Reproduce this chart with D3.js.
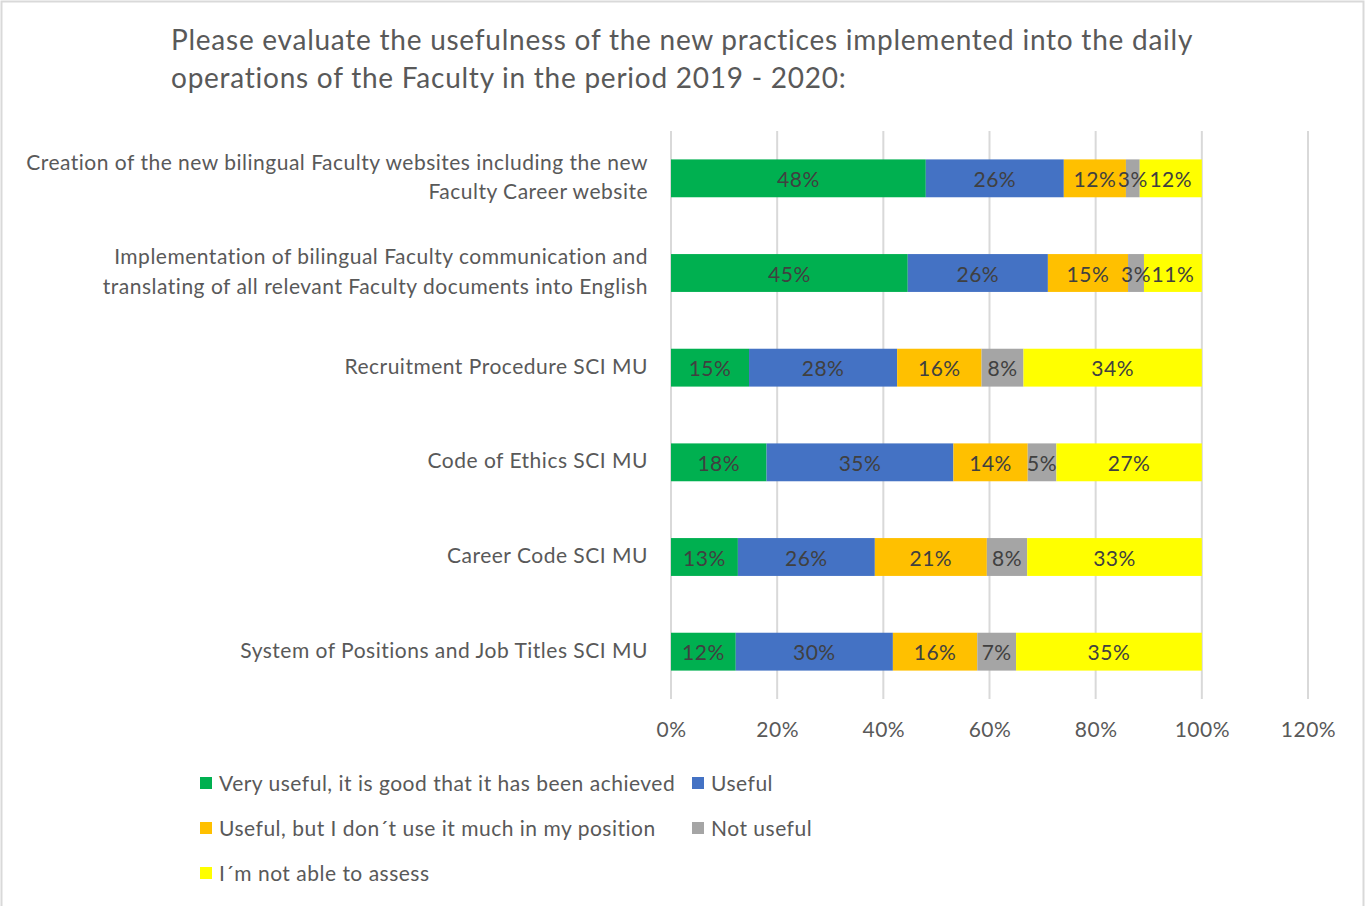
<!DOCTYPE html>
<html>
<head>
<meta charset="utf-8">
<script src="https://cdn.jsdelivr.net/npm/d3@7"></script>
<style>
  html, body { margin: 0; padding: 0; background: #fff; }
  svg { display: block; }
  text { font-family: Lato, "Open Sans", sans-serif; }
</style>
</head>
<body>
<svg id="chart" width="1365" height="906"></svg>
<script>
// Survey items (top to bottom); each label may wrap to two lines
const categories = [
  ["Creation of the new bilingual Faculty websites including the new", "Faculty Career website"],
  ["Implementation of bilingual Faculty communication and", "translating of all relevant Faculty documents into English"],
  ["Recruitment Procedure SCI MU"],
  ["Code of Ethics SCI MU"],
  ["Career Code SCI MU"],
  ["System of Positions and Job Titles SCI MU"]
];

// Answer options
const seriesNames = [
  "Very useful, it is good that it has been achieved",
  "Useful",
  "Useful, but I don´t use it much in my position",
  "Not useful",
  "I´m not able to assess"
];

// Share of responses (%) per answer option, one value per survey item
const veryUseful   = [48.0, 44.6, 14.7, 18.0, 12.6, 12.2];
const useful       = [26.0, 26.4, 27.9, 35.2, 25.8, 29.6];
const usefulNotUse = [11.7, 15.1, 15.9, 14.0, 21.1, 15.9];
const notUseful    = [ 2.6,  3.0,  7.9,  5.4,  7.6,  7.3];
const notAssess    = [11.7, 10.9, 33.6, 27.4, 32.9, 35.0];

const tickValues = [0, 20, 40, 60, 80, 100, 120];

const seriesValues = [veryUseful, useful, usefulNotUse, notUseful, notAssess];
const colors = ["#00B050", "#4472C4", "#FFC000", "#A5A5A5", "#FFFF00"];

const FS = 21;          // body text size
const LS = "0.5px";     // body letter spacing

const svg = d3.select("#chart");

// outer chart frame
svg.append("rect")
  .attr("x", 1.5).attr("y", 1.5)
  .attr("width", 1362).attr("height", 910)
  .attr("fill", "#fff").attr("stroke", "#d9d9d9").attr("stroke-width", 2);

// title
const title = svg.append("text")
  .attr("fill", "#595959")
  .attr("font-size", 28)
  .attr("letter-spacing", "0.75px");
title.append("tspan").attr("x", 171).attr("y", 50)
  .text("Please evaluate the usefulness of the new practices implemented into the daily");
title.append("tspan").attr("x", 171).attr("y", 88)
  .text("operations of the Faculty in the period 2019 - 2020:");

const x = d3.scaleLinear().domain([0, 120]).range([671, 1308]);
const y = d3.scaleBand()
  .domain(d3.range(categories.length))
  .range([131, 699])
  .paddingInner(0.6)
  .paddingOuter(0.3);

// vertical gridlines
svg.append("g")
  .selectAll("line")
  .data(tickValues)
  .join("line")
  .attr("x1", d => x(d)).attr("x2", d => x(d))
  .attr("y1", 131).attr("y2", 699)
  .attr("stroke", "#d9d9d9").attr("stroke-width", 2);

// x axis tick labels
const xAxis = d3.axisBottom(x)
  .tickValues(tickValues)
  .tickFormat(d => d + "%")
  .tickSize(0)
  .tickPadding(0);
const gx = svg.append("g")
  .attr("transform", "translate(0,722)")
  .call(xAxis);
gx.select(".domain").remove();
gx.selectAll("text")
  .attr("font-family", "Lato, 'Open Sans', sans-serif")
  .attr("font-size", FS)
  .attr("letter-spacing", LS)
  .attr("fill", "#595959");

// stacked layout
const rows = categories.map((c, i) => {
  const o = { index: i };
  seriesValues.forEach((s, k) => { o["s" + k] = s[i]; });
  return o;
});
const keys = seriesValues.map((s, k) => "s" + k);
const stacked = d3.stack().keys(keys)(rows);

const layers = svg.append("g")
  .selectAll("g")
  .data(stacked)
  .join("g")
  .attr("fill", (d, k) => colors[k]);

layers.selectAll("rect")
  .data(d => d)
  .join("rect")
  .attr("x", d => x(d[0]))
  .attr("width", d => x(d[1]) - x(d[0]))
  .attr("y", (d, i) => y(i))
  .attr("height", y.bandwidth());

// value labels centred in each segment
const labelLayers = svg.append("g")
  .selectAll("g")
  .data(stacked)
  .join("g");
labelLayers.selectAll("text")
  .data(d => d)
  .join("text")
  .attr("x", d => (x(d[0]) + x(d[1])) / 2)
  .attr("y", (d, i) => y(i) + y.bandwidth() / 2 + 1)
  .attr("dy", "0.36em")
  .attr("text-anchor", "middle")
  .attr("font-size", FS)
  .attr("letter-spacing", LS)
  .attr("fill", "#404040")
  .text(d => Math.round(d[1] - d[0]) + "%");

// category labels
const catG = svg.append("g");
categories.forEach((lines, i) => {
  const cy = y(i) + y.bandwidth() / 2 + 4;
  const lh = 29.5;
  const t = catG.append("text")
    .attr("text-anchor", "end")
    .attr("font-size", FS)
    .attr("letter-spacing", LS)
    .attr("fill", "#595959");
  lines.forEach((ln, j) => {
    t.append("tspan")
      .attr("x", 648)
      .attr("y", cy + (j - (lines.length - 1) / 2) * lh)
      .attr("dy", "0.1em")
      .text(ln);
  });
});

// legend
const legendPos = [
  [200, 783], [692, 783],
  [200, 828], [692, 828],
  [200, 873]
];
const legend = svg.append("g")
  .selectAll("g")
  .data(seriesNames)
  .join("g")
  .attr("transform", (d, k) => `translate(${legendPos[k][0]},${legendPos[k][1]})`);
legend.append("rect")
  .attr("x", 0).attr("y", -6)
  .attr("width", 12).attr("height", 12)
  .attr("fill", (d, k) => colors[k]);
legend.append("text")
  .attr("x", 19).attr("y", 0)
  .attr("dy", "0.36em")
  .attr("font-size", FS)
  .attr("letter-spacing", LS)
  .attr("fill", "#595959")
  .text(d => d);
</script>
</body>
</html>
